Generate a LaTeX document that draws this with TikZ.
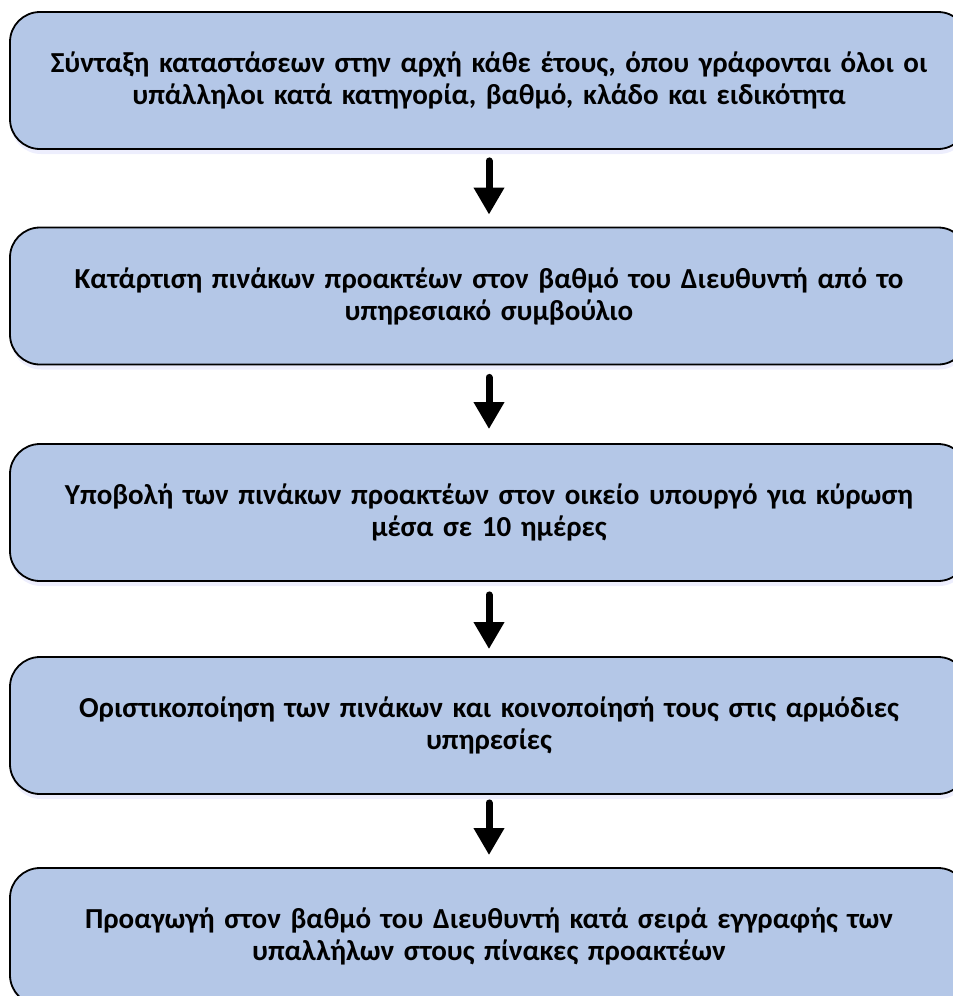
\documentclass[tikz,border=0pt]{standalone}
\usepackage{fontspec}
\setmainfont{Carlito}
\usetikzlibrary{arrows.meta,shadows}
\definecolor{boxfill}{RGB}{180,199,231}
\begin{document}
\begin{tikzpicture}[x=1pt,y=-1pt,
  stepbox/.style={draw=black, line width=1.8pt, fill=boxfill, rounded corners=30pt,
    minimum width=958pt, minimum height=137pt, inner sep=0pt,
    text width=930pt, align=center,
    font=\fontsize{29}{32}\selectfont\bfseries,
    drop shadow={shadow xshift=1pt, shadow yshift=-5pt, opacity=0.12, fill=boxfill!60!blue}},
  flowarrow/.style={line width=7pt, line cap=round, -{Triangle[width=29pt,length=27pt]}}]
\useasboundingbox (0,0) rectangle (953,996);
\node[stepbox] (b1) at (489,80.5) {\raisebox{-3pt}{Σύνταξη καταστάσεων στην αρχή κάθε έτους, όπου γράφονται όλοι οι}\\\raisebox{-3pt}{υπάλληλοι κατά κατηγορία, βαθμό, κλάδο και ειδικότητα}};
\node[stepbox] (b2) at (489,296) {Κατάρτιση πινάκων προακτέων στον βαθμό του Διευθυντή από το\\υπηρεσιακό συμβούλιο};
\node[stepbox] (b3) at (489,512.5) {Υποβολή των πινάκων προακτέων στον οικείο υπουργό για κύρωση\\μέσα σε 10 ημέρες};
\node[stepbox] (b4) at (489,725.5) {Οριστικοποίηση των πινάκων και κοινοποίησή τους στις αρμόδιες\\υπηρεσίες};
\node[stepbox] (b5) at (489,936.5) {Προαγωγή στον βαθμό του Διευθυντή κατά σειρά εγγραφής των\\υπαλλήλων στους πίνακες προακτέων};
\draw[flowarrow] ([yshift=-11pt]b1.south) -- ([yshift=12pt]b2.north);
\draw[flowarrow] ([yshift=-12pt]b2.south) -- ([yshift=14pt]b3.north);
\draw[flowarrow] ([yshift=-13pt]b3.south) -- ([yshift=7pt]b4.north);
\draw[flowarrow] ([yshift=-8pt]b4.south) -- ([yshift=12pt]b5.north);
\end{tikzpicture}
\end{document}
